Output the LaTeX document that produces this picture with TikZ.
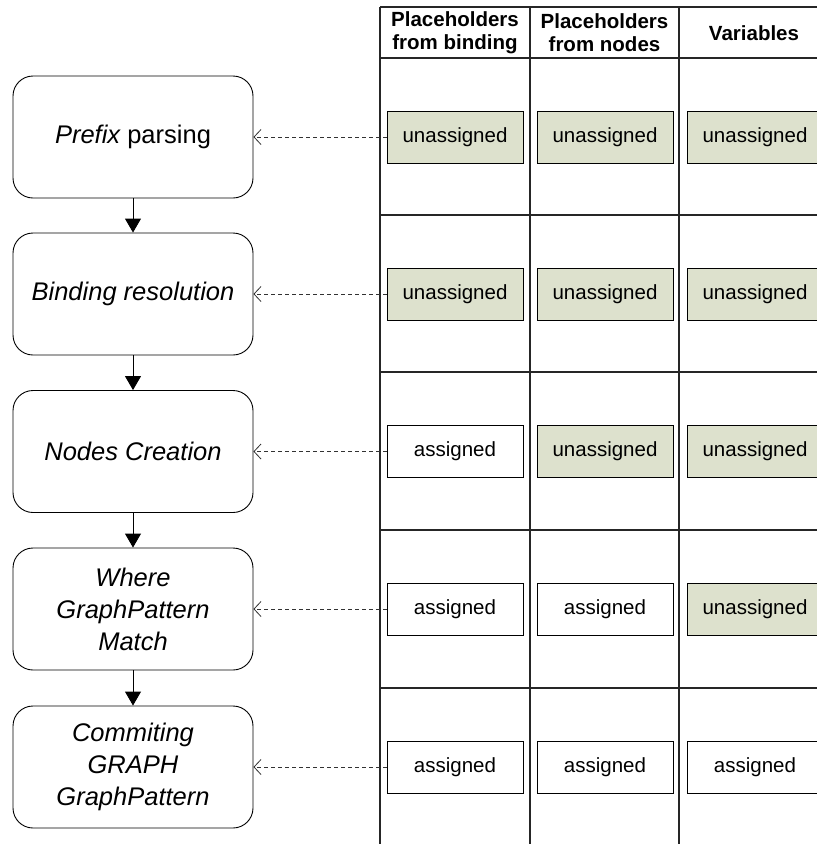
\documentclass[tikz,border=0pt]{standalone}
\usepackage{fontspec}
\setmainfont{Liberation Sans}
\usetikzlibrary{arrows.meta}
\definecolor{cellgreen}{RGB}{221,225,205}
\definecolor{dashgray}{RGB}{50,50,50}
\tikzset{
  stage/.style={draw, line width=0.9pt, rounded corners=20pt, minimum width=240pt, minimum height=122pt, inner sep=0pt, align=center, font=\fontsize{25.5}{32}\selectfont\itshape},
  cellbox/.style={draw, line width=0.8pt, minimum width=136pt, minimum height=52pt, inner sep=0pt, font=\fontsize{20.5}{24}\selectfont},
  unas/.style={cellbox, fill=cellgreen},
  asg/.style={cellbox, fill=white},
  hdr/.style={align=center, inner sep=0pt, font=\fontsize{20.5}{23}\selectfont\bfseries},
  grid/.style={line width=1.3pt, black!85},
  flow/.style={line width=0.9pt, -{Triangle[length=14pt,width=16pt]}},
  link/.style={dashed, dash pattern=on 4pt off 3pt, line width=0.8pt, dashgray, -{Straight Barb[length=7pt,width=15pt,line width=0.8pt]}}
}
\begin{document}
\begin{tikzpicture}[x=1pt,y=-1pt]
\useasboundingbox (0,0) rectangle (817,844);
\clip (0,0) rectangle (817,844);
% table grid
\foreach \xx in {380,530,679,829} \draw[grid] (\xx,7) -- (\xx,850);
\foreach \yy in {7,58,215,372,530,688} \draw[grid] (380,\yy) -- (829,\yy);
% headers
\node[hdr] (h1) at (455,33) {Placeholders\\from binding};
\node[hdr] (h2) at (604.5,33) {Placeholders\\from nodes};
\node[hdr] (h3) at (754,33) {Variables};
% stages
\node[stage] (s1) at (133,137) {\textit{Prefix}\upshape{} parsing};
\node[stage] (s2) at (133,294) {Binding resolution};
\node[stage] (s3) at (133,451.5) {Nodes Creation};
\node[stage] (s4) at (133,609) {Where\\GraphPattern\\Match};
\node[stage] (s5) at (133,767) {Commiting\\GRAPH\\GraphPattern};
\draw[flow] (s1) -- (s2);
\draw[flow] (s2) -- (s3);
\draw[flow] (s3) -- (s4);
\draw[flow] (s4) -- (s5);
% cells
\node[unas] (a1) at (455,137) {unassigned};
\node[unas] (b1) at (605,137) {unassigned};
\node[unas] (c1) at (755,137) {unassigned};
\node[unas] (a2) at (455,294) {unassigned};
\node[unas] (b2) at (605,294) {unassigned};
\node[unas] (c2) at (755,294) {unassigned};
\node[asg] (a3) at (455,451.5) {assigned};
\node[unas] (b3) at (605,451.5) {unassigned};
\node[unas] (c3) at (755,451.5) {unassigned};
\node[asg] (a4) at (455,609) {assigned};
\node[asg] (b4) at (605,609) {assigned};
\node[unas] (c4) at (755,609) {unassigned};
\node[asg] (a5) at (455,767) {assigned};
\node[asg] (b5) at (605,767) {assigned};
\node[asg] (c5) at (755,767) {assigned};
% links
\foreach \i in {1,...,5} \draw[link] (a\i.west) -- (s\i.east);
\end{tikzpicture}
\end{document}
